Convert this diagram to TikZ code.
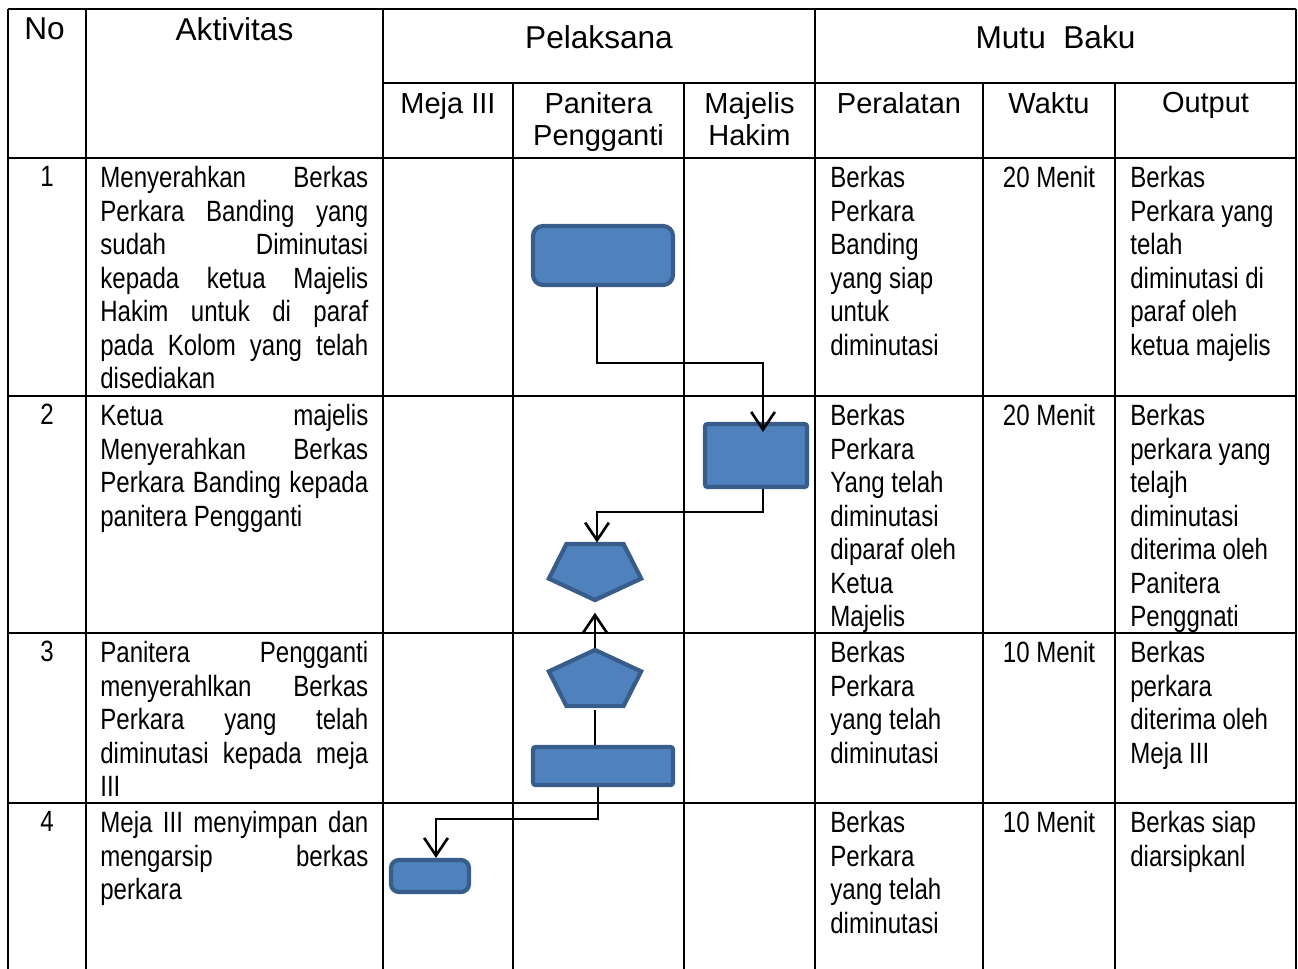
\documentclass[tikz,border=0pt]{standalone}
\usepackage{fontspec}
\setmainfont{Liberation Sans}
\newfontfamily\narrowfont[FakeStretch=0.82]{Liberation Sans}
\usetikzlibrary{arrows.meta,shapes.geometric}
\definecolor{boxfill}{HTML}{4F81BD}
\definecolor{boxline}{HTML}{385D8A}
\newcommand\jline[1]{\makebox[5.36cm][s]{#1}}

\begin{document}
\begin{tikzpicture}[x=0.02cm, y=-0.02cm,
    >={Straight Barb[length=10pt,width=13.5pt,line width=1.5pt]},
    grid/.style={line width=1.1pt},
    head/.style={font=\fontsize{18}{20}\selectfont, inner sep=0pt, anchor=north},
    subhead/.style={font=\fontsize{16.5}{18.1}\selectfont, inner sep=0pt, anchor=north, align=center},
    cell/.style={font={\narrowfont\fontsize{16.7}{19.1}\selectfont}, inner sep=0pt, anchor=north west, align=left},
    numcell/.style={cell, anchor=north},
    blok/.style={fill=boxfill, draw=boxline, line width=2.4pt, inner sep=0pt},
    penta/.style={blok, regular polygon, regular polygon sides=5, minimum size=1.94cm, yscale=0.64, transform shape},
    flow/.style={->, line width=0.8pt}]
  \useasboundingbox (0,0) rectangle (1298,969);
  \draw[grid] (8,9) -- (1296,9);
  \draw[grid] (383,83) -- (1296,83);
  \foreach \y in {158,396,633,803}
    \draw[grid] (8,\y) -- (1296,\y);
  \foreach \x in {8,86,383,815,1296}
    \draw[grid] (\x,9) -- (\x,969);
  \foreach \x in {513,684,983,1115}
    \draw[grid] (\x,83) -- (\x,969);

  \node[head, anchor=north west] (hno) at (24,17) {No};
  \node[head] (hakt) at (234.5,17) {Aktivitas};
  \node[head] (hpel) at (599,25) {Pelaksana};
  \node[head] (hmutu) at (1055.5,25) {Mutu\ \ Baku};
  \node[subhead] (hmeja) at (448,92) {Meja III};
  \node[subhead] (hpan) at (598.5,92) {Panitera\\Pengganti};
  \node[subhead] (hmaj) at (749.5,92) {Majelis\\Hakim};
  \node[subhead] (halat) at (899,92) {Peralatan};
  \node[subhead] (hwaktu) at (1049,92) {Waktu};
  \node[subhead] (hout) at (1205.5,92) {Output};

  \node[numcell] (n1) at (47,166) {1};
  \node[cell] (a1) at (100,166) {\jline{Menyerahkan Berkas}\\ \jline{Perkara Banding yang}\\ \jline{sudah Diminutasi}\\
    \jline{kepada ketua Majelis}\\ \jline{Hakim untuk di paraf}\\ \jline{pada Kolom yang telah}\\ disediakan};
  \node[cell] (t1) at (830,166) {Berkas\\Perkara\\Banding\\yang siap\\untuk\\diminutasi};
  \node[numcell] (w1) at (1049,166) {20 Menit};
  \node[cell] (o1) at (1130,166) {Berkas\\Perkara yang\\telah\\diminutasi di\\paraf oleh\\ketua majelis};

  \node[numcell] (n2) at (47,404) {2};
  \node[cell] (a2) at (100,404) {\jline{Ketua majelis}\\ \jline{Menyerahkan Berkas}\\ \jline{Perkara Banding kepada}\\ panitera Pengganti};
  \node[cell] (t2) at (830,404) {Berkas\\Perkara\\Yang telah\\diminutasi\\diparaf oleh\\Ketua\\Majelis};
  \node[numcell] (w2) at (1049,404) {20 Menit};
  \node[cell] (o2) at (1130,404) {Berkas\\perkara yang\\telajh\\diminutasi\\diterima oleh\\Panitera\\Penggnati};

  \node[numcell] (n3) at (47,641) {3};
  \node[cell] (a3) at (100,641) {\jline{Panitera Pengganti}\\ \jline{menyerahlkan Berkas}\\ \jline{Perkara yang telah}\\
    \jline{diminutasi kepada meja}\\ III};
  \node[cell] (t3) at (830,641) {Berkas\\Perkara\\yang telah\\diminutasi};
  \node[numcell] (w3) at (1049,641) {10 Menit};
  \node[cell] (o3) at (1130,641) {Berkas\\perkara\\diterima oleh\\Meja III};

  \node[numcell] (n4) at (47,811) {4};
  \node[cell] (a4) at (100,811) {\jline{Meja III menyimpan dan}\\ \jline{mengarsip berkas}\\ perkara};
  \node[cell] (t4) at (830,811) {Berkas\\Perkara\\yang telah\\diminutasi};
  \node[numcell] (w4) at (1049,811) {10 Menit};
  \node[cell] (o4) at (1130,811) {Berkas siap\\diarsipkanl};

  \node[blok, rounded corners=0.2cm, minimum width=2.8cm, minimum height=1.18cm] (r1) at (603,255.5) {};
  \node[blok, rounded corners=0.05cm, minimum width=2.04cm, minimum height=1.26cm] (r2) at (756,455.5) {};
  \node[penta, shape border rotate=180] (p1) at (595,569) {};
  \node[penta] (p2) at (595,681) {};
  \node[blok, rounded corners=0.05cm, minimum width=2.8cm, minimum height=0.76cm] (r3) at (603,766) {};
  \node[blok, rounded corners=0.16cm, minimum width=1.56cm, minimum height=0.64cm] (r4) at (430,876) {};

  \draw[flow] ([xshift=-0.12cm]r1.south) -- ++(0,76) -| ([xshift=0.14cm,yshift=-0.2cm]r2.north);
  \draw[flow] ([xshift=0.14cm]r2.south) -- ++(0,23) -| ([xshift=0.04cm]p1.north);
  \draw[flow, shorten >=0.22cm] (p2.north) -- (p1.south);
  \draw[line width=0.8pt, shorten <=0.06cm] (p2.south) -- (p2.south |- r3.north);
  \draw[flow] ([xshift=-0.1cm]r3.south) -- ++(0,32) -| ([xshift=0.12cm]r4.north);
\end{tikzpicture}
\end{document}
